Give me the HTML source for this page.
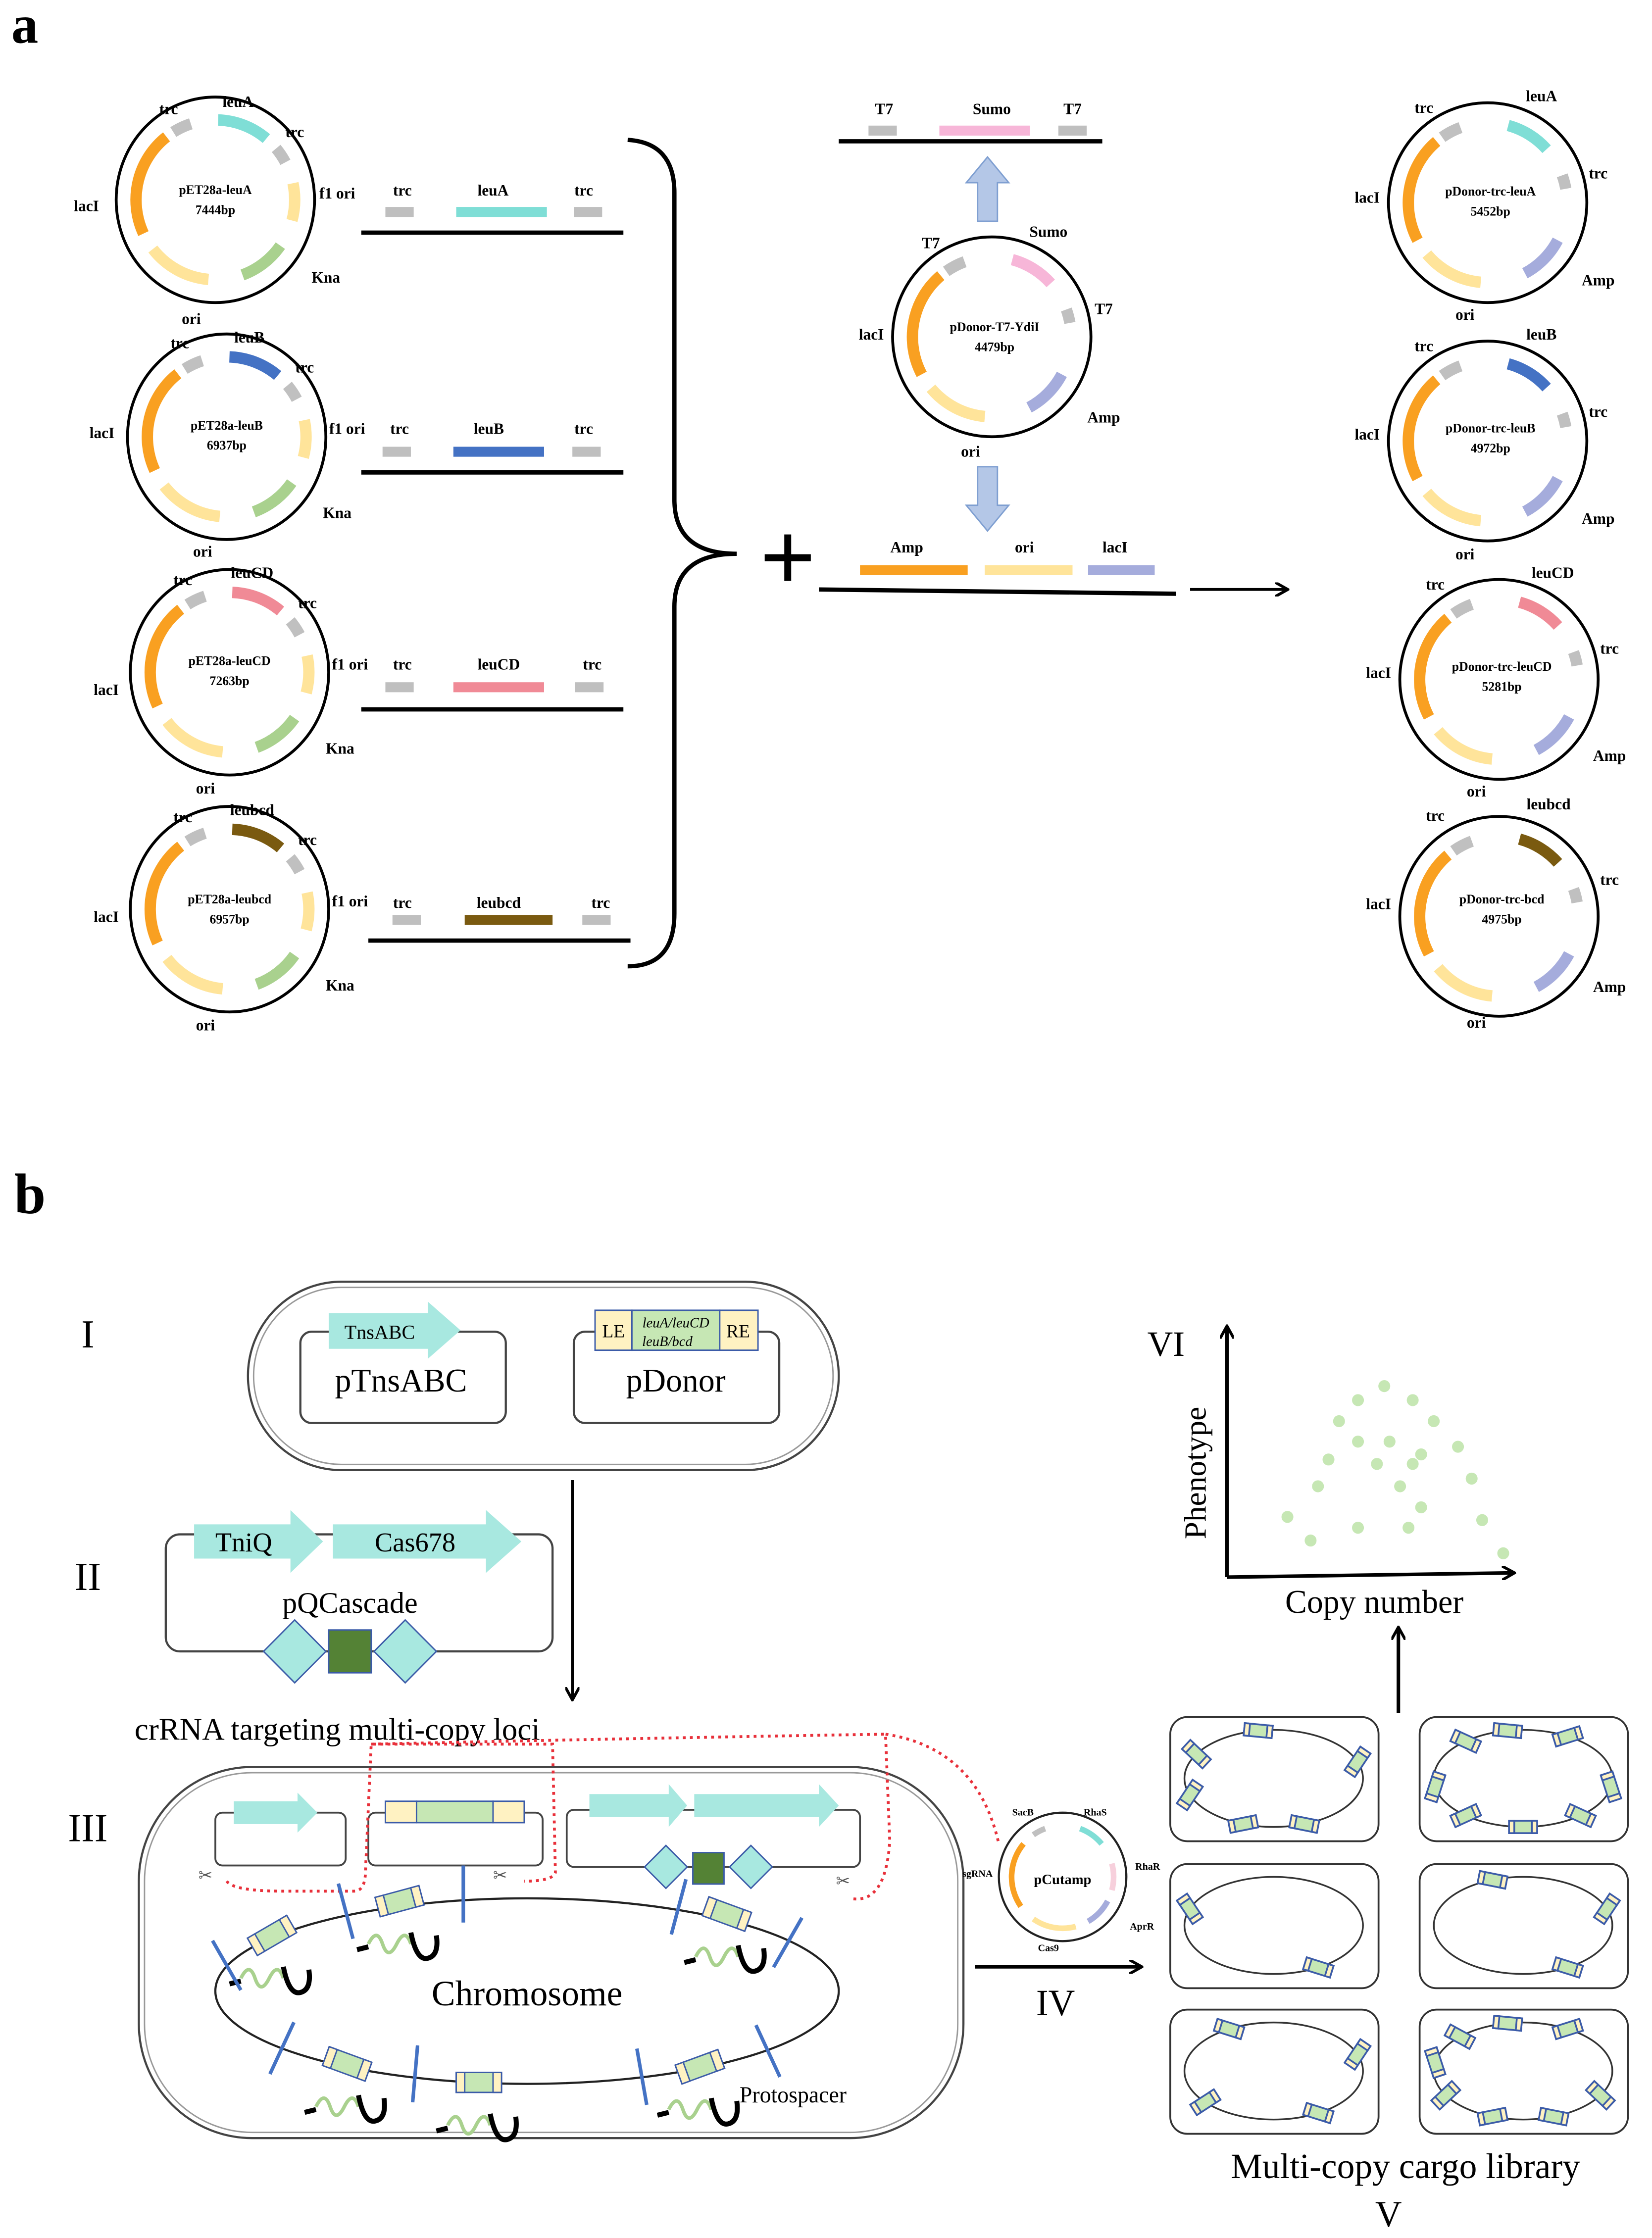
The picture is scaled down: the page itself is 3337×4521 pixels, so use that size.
<!DOCTYPE html>
<html><head><meta charset="utf-8"><style>
html,body{margin:0;padding:0;background:#fff}
svg{display:block}
text{font-family:"Liberation Serif",serif}
.b{font-weight:bold;font-size:11px}
.c{font-weight:bold;font-size:9px}
</style></head><body>
<svg id="s" width="3337" height="4521" viewBox="0 0 1166 1568" preserveAspectRatio="none" xmlns="http://www.w3.org/2000/svg">
<defs><marker id="ah" markerWidth="10" markerHeight="10" refX="8" refY="5" orient="auto" markerUnits="userSpaceOnUse"><path d="M0,0 L9,5 L0,10" fill="none" stroke="#000" stroke-width="2"/></marker></defs>
<g id="arcs"></g>
<text x="8" y="30" font-size="38" font-weight="bold">a</text>
<g text-anchor="middle">
<text class="b" x="119" y="80">trc</text><text class="b" x="168" y="75">leuA</text><text class="b" x="208" y="96">trc</text><text class="b" x="238" y="139">f1 ori</text><text class="b" x="61" y="148">lacI</text><text class="b" x="230" y="198">Kna</text><text class="b" x="135" y="227">ori</text>
<text class="c" x="152" y="136">pET28a-leuA</text><text class="c" x="152" y="150">7444bp</text>
<text class="b" x="127" y="244">trc</text><text class="b" x="176" y="240">leuB</text><text class="b" x="215" y="261">trc</text><text class="b" x="245" y="304">f1 ori</text><text class="b" x="72" y="307">lacI</text><text class="b" x="238" y="363">Kna</text><text class="b" x="143" y="390">ori</text>
<text class="c" x="160" y="301">pET28a-leuB</text><text class="c" x="160" y="315">6937bp</text>
<text class="b" x="129" y="410">trc</text><text class="b" x="178" y="405">leuCD</text><text class="b" x="217" y="426">trc</text><text class="b" x="247" y="469">f1 ori</text><text class="b" x="75" y="487">lacI</text><text class="b" x="240" y="528">Kna</text><text class="b" x="145" y="556">ori</text>
<text class="c" x="162" y="466">pET28a-leuCD</text><text class="c" x="162" y="480">7263bp</text>
<text class="b" x="129" y="576">trc</text><text class="b" x="178" y="571">leubcd</text><text class="b" x="217" y="592">trc</text><text class="b" x="247" y="635">f1 ori</text><text class="b" x="75" y="646">lacI</text><text class="b" x="240" y="694">Kna</text><text class="b" x="145" y="722">ori</text>
<text class="c" x="162" y="633">pET28a-leubcd</text><text class="c" x="162" y="647">6957bp</text>
<text class="b" x="284" y="137">trc</text><text class="b" x="348" y="137">leuA</text><text class="b" x="412" y="137">trc</text>
<text class="b" x="282" y="304">trc</text><text class="b" x="345" y="304">leuB</text><text class="b" x="412" y="304">trc</text>
<text class="b" x="284" y="469">trc</text><text class="b" x="352" y="469">leuCD</text><text class="b" x="418" y="469">trc</text>
<text class="b" x="284" y="636">trc</text><text class="b" x="352" y="636">leubcd</text><text class="b" x="424" y="636">trc</text>
<text class="b" x="624" y="80">T7</text><text class="b" x="700" y="80">Sumo</text><text class="b" x="757" y="80">T7</text>
<text class="b" x="657" y="174">T7</text><text class="b" x="740" y="166">Sumo</text><text class="b" x="779" y="220">T7</text><text class="b" x="615" y="238">lacI</text><text class="b" x="779" y="296">Amp</text><text class="b" x="685" y="320">ori</text>
<text class="c" x="702" y="232">pDonor-T7-YdiI</text><text class="c" x="702" y="246">4479bp</text>
<text class="b" x="640" y="387">Amp</text><text class="b" x="723" y="387">ori</text><text class="b" x="787" y="387">lacI</text>
<text class="b" x="1005" y="79">trc</text><text class="b" x="1088" y="71">leuA</text><text class="b" x="1128" y="125">trc</text><text class="b" x="965" y="142">lacI</text><text class="b" x="1128" y="200">Amp</text><text class="b" x="1034" y="224">ori</text>
<text class="c" x="1052" y="137">pDonor-trc-leuA</text><text class="c" x="1052" y="151">5452bp</text>
<text class="b" x="1005" y="246">trc</text><text class="b" x="1088" y="238">leuB</text><text class="b" x="1128" y="292">trc</text><text class="b" x="965" y="308">lacI</text><text class="b" x="1128" y="367">Amp</text><text class="b" x="1034" y="392">ori</text>
<text class="c" x="1052" y="303">pDonor-trc-leuB</text><text class="c" x="1052" y="317">4972bp</text>
<text class="b" x="1013" y="413">trc</text><text class="b" x="1096" y="405">leuCD</text><text class="b" x="1136" y="458">trc</text><text class="b" x="973" y="475">lacI</text><text class="b" x="1136" y="533">Amp</text><text class="b" x="1042" y="558">ori</text>
<text class="c" x="1060" y="470">pDonor-trc-leuCD</text><text class="c" x="1060" y="484">5281bp</text>
<text class="b" x="1013" y="575">trc</text><text class="b" x="1093" y="567">leubcd</text><text class="b" x="1136" y="620">trc</text><text class="b" x="973" y="637">lacI</text><text class="b" x="1136" y="695">Amp</text><text class="b" x="1042" y="720">ori</text>
<text class="c" x="1060" y="633">pDonor-trc-bcd</text><text class="c" x="1060" y="647">4975bp</text>
</g>
<g stroke="#000" stroke-width="3" fill="none">
<line x1="255" y1="163" x2="440" y2="163"/><line x1="255" y1="331" x2="440" y2="331"/><line x1="255" y1="497" x2="440" y2="497"/><line x1="260" y1="659" x2="445" y2="659"/>
<line x1="592" y1="99" x2="778" y2="99"/><line x1="578" y1="413" x2="830" y2="416"/>
<path d="M443,98 Q476,100 476,135 L476,350 Q476,388 520,388 Q476,388 476,425 L476,640 Q476,677 443,677"/>
<line x1="840" y1="413" x2="908" y2="413" stroke-width="2" marker-end="url(#ah)"/>
</g>
<text x="556" y="414" font-size="70" font-weight="bold" text-anchor="middle">+</text>
<g>
<rect x="272" y="145" width="20" height="7" fill="#bfbfbf"/><rect x="322" y="145" width="64" height="7" fill="#7fded6"/><rect x="405" y="145" width="20" height="7" fill="#bfbfbf"/>
<rect x="270" y="313" width="20" height="7" fill="#bfbfbf"/><rect x="320" y="313" width="64" height="7" fill="#4472c4"/><rect x="404" y="313" width="20" height="7" fill="#bfbfbf"/>
<rect x="272" y="478" width="20" height="7" fill="#bfbfbf"/><rect x="320" y="478" width="64" height="7" fill="#f08a96"/><rect x="406" y="478" width="20" height="7" fill="#bfbfbf"/>
<rect x="277" y="641" width="20" height="7" fill="#bfbfbf"/><rect x="328" y="641" width="62" height="7" fill="#7a5a10"/><rect x="411" y="641" width="20" height="7" fill="#bfbfbf"/>
<rect x="613" y="88" width="20" height="7" fill="#bfbfbf"/><rect x="663" y="88" width="64" height="7" fill="#f7b6d8"/><rect x="747" y="88" width="20" height="7" fill="#bfbfbf"/>
<rect x="607" y="396" width="76" height="7" fill="#f9a021"/><rect x="695" y="396" width="62" height="7" fill="#ffe49a"/><rect x="768" y="396" width="47" height="7" fill="#a5acdc"/>
<path d="M690,155 L690,128 L682,128 L697,110 L712,128 L704,128 L704,155 Z" fill="#b4c7e7" stroke="#7f9fd1"/>
<path d="M690,327 L690,354 L682,354 L697,372 L712,354 L704,354 L704,327 Z" fill="#b4c7e7" stroke="#7f9fd1"/>
</g>
<text x="10" y="850" font-size="40" font-weight="bold">b</text>
<g font-size="28" text-anchor="middle"><text x="62" y="944">I</text><text x="62" y="1114">II</text><text x="62" y="1290">III</text></g>
<g fill="none" stroke="#444">
<rect x="175" y="898" width="417" height="132" rx="66" stroke-width="1.5"/><rect x="179" y="902" width="409" height="124" rx="62" stroke="#999"/>
<rect x="212" y="933" width="145" height="64" rx="8" stroke-width="1.5"/><rect x="405" y="933" width="145" height="64" rx="8" stroke-width="1.5"/>
<rect x="117" y="1075" width="273" height="82" rx="10" stroke-width="1.5"/>
<rect x="98" y="1238" width="582" height="260" rx="80" stroke-width="1.5"/><rect x="102" y="1242" width="574" height="252" rx="76" stroke="#999"/>
<rect x="152" y="1270" width="92" height="37" rx="5" stroke-width="1.3"/><rect x="260" y="1270" width="123" height="37" rx="5" stroke-width="1.3"/><rect x="400" y="1268" width="207" height="40" rx="5" stroke-width="1.3"/>
<ellipse cx="372" cy="1395" rx="220" ry="65" stroke="#222" stroke-width="1.5"/>
</g>
<g fill="#a8e8e0">
<path d="M232,920 L302,920 L302,912 L325,932 L302,952 L302,945 L232,945 Z"/>
<path d="M137,1068 L205,1068 L205,1058 L228,1080 L205,1102 L205,1092 L137,1092 Z"/>
<path d="M235,1068 L343,1068 L343,1058 L368,1080 L343,1102 L343,1092 L235,1092 Z"/>
<path d="M165,1262 L210,1262 L210,1256 L224,1270 L210,1284 L210,1278 L165,1278 Z"/>
<path d="M416,1257 L472,1257 L472,1250 L485,1265 L472,1280 L472,1273 L416,1273 Z"/>
<path d="M490,1257 L578,1257 L578,1250 L592,1265 L578,1280 L578,1273 L490,1273 Z"/>
</g>
<g stroke="#3b5ba8" stroke-width="1">
<rect x="420" y="918" width="26" height="28" fill="#fff2c2"/><rect x="446" y="918" width="62" height="28" fill="#c6e7b4"/><rect x="508" y="918" width="27" height="28" fill="#fff2c2"/>
<rect x="272" y="1262" width="22" height="15" fill="#fff2c2"/><rect x="294" y="1262" width="54" height="15" fill="#c6e7b4"/><rect x="348" y="1262" width="22" height="15" fill="#fff2c2"/>
<path d="M186,1157 L208,1135 L230,1157 L208,1179 Z" fill="#a8e8e0"/><rect x="232" y="1142" width="30" height="30" fill="#548235"/><path d="M264,1157 L286,1135 L308,1157 L286,1179 Z" fill="#a8e8e0"/>
<path d="M455,1308 L470,1293 L485,1308 L470,1323 Z" fill="#a8e8e0"/><rect x="489" y="1298" width="22" height="22" fill="#548235"/><path d="M515,1308 L530,1293 L545,1308 L530,1323 Z" fill="#a8e8e0"/>
</g>
<g text-anchor="middle">
<text x="268" y="938" font-size="14">TnsABC</text><text x="283" y="975" font-size="23">pTnsABC</text>
<text x="433" y="937" font-size="13">LE</text><text x="521" y="937" font-size="13">RE</text>
<text x="477" y="930" font-size="10" font-style="italic">leuA/leuCD</text><text x="471" y="943" font-size="10" font-style="italic">leuB/bcd</text>
<text x="477" y="975" font-size="23">pDonor</text>
<text x="172" y="1087" font-size="19">TniQ</text><text x="293" y="1087" font-size="19">Cas678</text><text x="247" y="1130" font-size="21">pQCascade</text>
<text x="372" y="1405" font-size="25">Chromosome</text>
<text x="745" y="1412" font-size="26">IV</text>
<text x="992" y="1526" font-size="25">Multi-copy cargo library</text><text x="980" y="1560" font-size="26">V</text>
<text x="823" y="950" font-size="25">VI</text><text x="970" y="1130" font-size="23">Copy number</text>
<text x="750" y="1320" font-size="10" font-weight="bold">pCutamp</text>
<g font-size="7" font-weight="bold"><text x="722" y="1272">SacB</text><text x="773" y="1272">RhaS</text><text x="810" y="1310">RhaR</text><text x="806" y="1352">AprR</text><text x="740" y="1367">Cas9</text><text x="690" y="1315">sgRNA</text></g>
</g>
<text x="95" y="1219" font-size="22">crRNA targeting multi-copy loci</text>
<text x="522" y="1473" font-size="16">Protospacer</text>
<text transform="translate(851,1032) rotate(-90)" font-size="22" text-anchor="middle">Phenotype</text>
<g stroke="#000" stroke-width="2.2" fill="none">
<line x1="404" y1="1037" x2="404" y2="1190" stroke-width="2" marker-end="url(#ah)"/>
<line x1="688" y1="1378" x2="805" y2="1378" stroke-width="2.5" marker-end="url(#ah)"/>
<line x1="987" y1="1200" x2="987" y2="1141" stroke-width="2.5" marker-end="url(#ah)"/>
<line x1="866" y1="1105" x2="866" y2="930" stroke-width="2.5" marker-end="url(#ah)"/>
<line x1="866" y1="1105" x2="1068" y2="1102" stroke-width="2.5" marker-end="url(#ah)"/>
</g>
<path d="M160,1318 Q165,1325 200,1325 L250,1325 Q258,1325 258,1310 L262,1222 L390,1222 L392,1312 Q390,1318 370,1318 M262,1222 Q440,1218 625,1215 L628,1290 Q625,1335 600,1330 M625,1215 Q690,1225 705,1292" fill="none" stroke="#e8303a" stroke-width="2" stroke-dasharray="2,3"/>
<circle cx="750" cy="1315" r="45" fill="none" stroke="#222" stroke-width="1.5"/>
<g id="lib"></g><g id="chr"></g><g id="dots" fill="#c6e7b4"></g>
</svg>
<script>
var NS="http://www.w3.org/2000/svg";
function el(p,t,a){var e=document.createElementNS(NS,t);for(var k in a)e.setAttribute(k,a[k]);p.appendChild(e);return e;}
var A=document.getElementById("arcs");
function arc(cx,cy,r,a1,a2,c,w){var r1=a1*Math.PI/180,r2=a2*Math.PI/180;
var d="M"+(cx+r*Math.sin(r1))+","+(cy-r*Math.cos(r1))+" A"+r+","+r+" 0 "+((a2-a1)>180?1:0)+" 1 "+(cx+r*Math.sin(r2))+","+(cy-r*Math.cos(r2));
el(A,"path",{d:d,fill:"none",stroke:c,"stroke-width":w});}
var G="#c0c0c0",O="#f9a021",Y="#ffe49a",GR="#a9d18e",L="#a5acdc";
function left(cx,cy,col){el(A,"ellipse",{cx:cx,cy:cy,rx:70,ry:72,fill:"none",stroke:"#000","stroke-width":2});
arc(cx,cy,56,328,342,G,8);arc(cx,cy,56,2,40,col,8);arc(cx,cy,56,50,62,G,8);arc(cx,cy,56,78,105,Y,8);arc(cx,cy,56,125,160,GR,8);arc(cx,cy,56,185,232,Y,8);arc(cx,cy,56,245,322,O,8);}
function right(cx,cy,col){el(A,"ellipse",{cx:cx,cy:cy,rx:70,ry:70,fill:"none",stroke:"#000","stroke-width":2});
arc(cx,cy,56,325,340,G,8);arc(cx,cy,56,15,48,col,8);arc(cx,cy,56,70,80,G,8);arc(cx,cy,56,118,152,L,8);arc(cx,cy,56,185,230,Y,8);arc(cx,cy,56,242,320,O,8);}
left(152,140,"#7fded6");left(160,306,"#4472c4");left(162,471,"#f08a96");left(162,637,"#7a5a10");
right(700,236,"#f7b6d8");right(1050,142,"#7fded6");right(1050,309,"#4472c4");right(1058,476,"#f08a96");right(1058,642,"#7a5a10");
arc(750,1315,36,325,340,G,4);arc(750,1315,36,20,50,"#7fded6",4);arc(750,1315,36,75,105,"#f7d0dc",4);arc(750,1315,36,118,150,L,4);arc(750,1315,36,165,215,Y,4);arc(750,1315,36,235,310,O,4);
function cas(p,x,y,ang,s,sw){sw=sw||1;var g=el(p,"g",{transform:"translate("+x+","+y+") rotate("+ang+") scale("+s+")"});
el(g,"rect",{x:-16,y:-7,width:32,height:14,fill:"#c6e7b4",stroke:"#3b5ba8","stroke-width":sw});
el(g,"rect",{x:-16,y:-7,width:6,height:14,fill:"#fff2c2",stroke:"#3b5ba8","stroke-width":sw});
el(g,"rect",{x:10,y:-7,width:6,height:14,fill:"#fff2c2",stroke:"#3b5ba8","stroke-width":sw});}
var C=document.getElementById("chr");
[[192,1356,-30],[282,1332,-15],[513,1341,20],[245,1446,20],[338,1459,0],[494,1448,-20]].forEach(function(b){cas(C,b[0],b[1],b[2],1);
el(C,"path",{d:"M"+(b[0]-22)+","+(b[1]+30)+" q6,-12 10,0 t10,0 t10,0",fill:"none",stroke:"#a9d18e","stroke-width":2.5});
el(C,"path",{d:"M"+(b[0]-30)+","+(b[1]+34)+" l8,-2 M"+(b[0]+8)+","+(b[1]+22)+" q4,20 12,18 q8,-2 6,-16",fill:"none",stroke:"#000","stroke-width":3.5});});
[[160,1377,-30],[244,1339,-15],[327,1327,0],[479,1336,15],[556,1361,30],[199,1435,25],[293,1453,5],[453,1455,-10],[542,1437,-25]].forEach(function(t){
el(C,"line",{x1:t[0],y1:t[1]-20,x2:t[0],y2:t[1]+20,stroke:"#4472c4","stroke-width":2.5,transform:"rotate("+t[2]+" "+t[0]+" "+t[1]+")"});});
[[140,1318],[348,1318],[590,1322]].forEach(function(s){el(C,"text",{x:s[0],y:s[1],"font-size":12,fill:"#555"}).textContent="\u2702";});
var Lb=document.getElementById("lib");
var boxes=[[826,1203],[1002,1203],[826,1306],[1002,1306],[826,1408],[1002,1408]];
var angs=[[200,250,290,20,100,150],[190,230,270,310,350,60,100,130],[300,160],[300,20,110],[300,20,120,220],[210,250,290,330,60,100,135,170]];
boxes.forEach(function(b,i){el(Lb,"rect",{x:b[0],y:b[1],width:147,height:87,rx:12,fill:"#fff",stroke:"#333","stroke-width":1.3});
var cx=b[0]+73,cy=b[1]+43;el(Lb,"ellipse",{cx:cx,cy:cy,rx:63,ry:34,fill:"none",stroke:"#333","stroke-width":1.2});
angs[i].forEach(function(a){var r=a*Math.PI/180;var x=cx+63*Math.cos(r),y=cy-34*Math.sin(r);var t=Math.atan2(34*Math.cos(r),63*Math.sin(r))*180/Math.PI;cas(Lb,x,y,-t,0.62,2);});});
var D=document.getElementById("dots");
[[1315,233],[1290,255],[1342,255],[1272,288],[1362,288],[1290,320],[1320,320],[1385,328],[1262,348],[1308,355],[1342,355],[1350,340],[1252,390],[1330,390],[1398,378],[1223,438],[1290,455],[1338,455],[1350,423],[1408,443],[1245,475],[1428,495]].forEach(function(p){
el(D,"circle",{cx:p[0]*0.743,cy:p[1]*0.447+867,r:4.2});});
</script>
</body></html>
